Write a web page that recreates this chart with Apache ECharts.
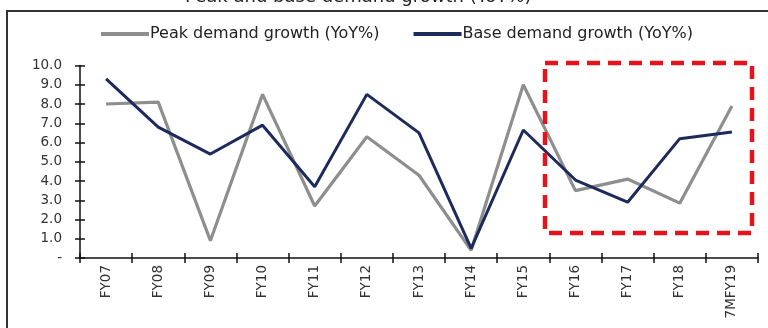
<!DOCTYPE html>
<html>
<head>
<meta charset="utf-8">
<script src="https://cdn.jsdelivr.net/npm/echarts@6/dist/echarts.min.js"></script>
<style>
  html, body { margin: 0; padding: 0; background: #fff; }
  #chart { width: 768px; height: 328px; }
</style>
</head>
<body>
<div id="chart"></div>
<script>
// Fiscal years on the category axis
const years = ['FY07', 'FY08', 'FY09', 'FY10', 'FY11', 'FY12', 'FY13', 'FY14', 'FY15', 'FY16', 'FY17', 'FY18', '7MFY19'];
// Year-on-year growth, %
const peakGrowth = [8.0, 8.1, 0.9, 8.5, 2.7, 6.3, 4.3, 0.4, 9.0, 3.5, 4.1, 2.85, 7.9];
const baseGrowth = [9.3, 6.8, 5.4, 6.9, 3.7, 8.5, 6.5, 0.5, 6.65, 4.05, 2.9, 6.2, 6.55];
const seriesNames = ['Peak demand growth (YoY%)', 'Base demand growth (YoY%)'];
const titleText = 'Peak and base demand growth (YoY%)';

const FONT = 'DejaVu Sans';
const chart = echarts.init(document.getElementById('chart'), null, { renderer: 'canvas' });

const yLabel = v => (v === 0 ? '-' : v.toFixed(1));

const tickStyle = { color: '#111', width: 1.5 };

chart.setOption({
  animation: false,
  backgroundColor: '#ffffff',
  title: {
    text: titleText,
    left: 180,
    top: -17,
    textStyle: { fontFamily: FONT, fontSize: 18, fontWeight: 'normal', color: '#222' }
  },
  legend: {
    top: 21,
    left: 96,
    itemWidth: 48,
    itemHeight: 4,
    itemGap: 34,
    icon: 'rect',
    textStyle: { fontFamily: FONT, fontSize: 16, color: '#222', padding: [0, 0, 0, -4] },
    data: seriesNames
  },
  grid: { left: 80, right: 10, top: 65.5, bottom: 70 },
  xAxis: [{
    type: 'category',
    data: years,
    boundaryGap: true,
    axisLine: { lineStyle: { color: '#111', width: 1.5 } },
    axisTick: { show: true, interval: 0, length: 5, lineStyle: tickStyle },
    axisLabel: { rotate: 90, interval: 0, margin: 7, fontFamily: FONT, fontSize: 13.5, color: '#333' },
    splitLine: { show: false }
  }, {
    // inner half of the category ticks
    type: 'category',
    data: years,
    position: 'bottom',
    boundaryGap: true,
    axisLine: { show: false },
    axisTick: { show: true, inside: true, interval: 0, length: 5, lineStyle: tickStyle },
    axisLabel: { show: false },
    splitLine: { show: false }
  }],
  yAxis: [{
    type: 'value',
    min: 0,
    max: 10,
    interval: 1,
    axisLine: { show: true, lineStyle: { color: '#111', width: 1.5 } },
    axisTick: { show: true, length: 5, lineStyle: tickStyle },
    axisLabel: { formatter: yLabel, margin: 18, fontFamily: FONT, fontSize: 13.5, color: '#333' },
    splitLine: { show: false }
  }, {
    // inner half of the value ticks
    type: 'value',
    min: 0,
    max: 10,
    interval: 1,
    position: 'left',
    axisLine: { show: false },
    axisTick: { show: true, inside: true, length: 5, lineStyle: tickStyle },
    axisLabel: { show: false },
    splitLine: { show: false }
  }],
  series: [{
    name: seriesNames[0],
    type: 'line',
    data: peakGrowth,
    symbol: 'none',
    lineStyle: { color: '#8e8e8e', width: 3.2 },
    itemStyle: { color: '#8e8e8e' },
    z: 2
  }, {
    name: seriesNames[1],
    type: 'line',
    data: baseGrowth,
    symbol: 'none',
    lineStyle: { color: '#1d2b5c', width: 3 },
    itemStyle: { color: '#1d2b5c' },
    z: 3
  }],
  graphic: [
    // outer frame (top and left edges)
    { type: 'polyline', shape: { points: [[7, 328], [7, 11], [768, 11]] },
      style: { stroke: '#333', lineWidth: 2, fill: null }, z: 10 },
    // highlight box around the recent years
    { type: 'rect', shape: { x: 545, y: 63, width: 207, height: 170 },
      style: { stroke: '#e3141b', lineWidth: 4.5, fill: null, lineDash: [13, 8] }, z: 10 }
  ]
});
</script>
</body>
</html>
